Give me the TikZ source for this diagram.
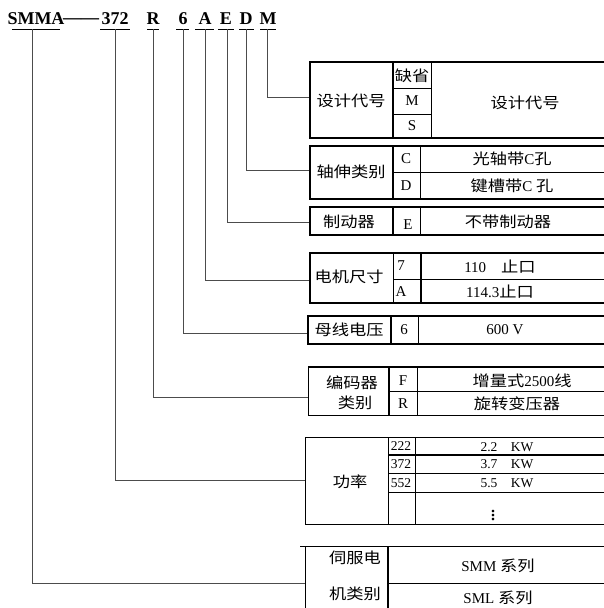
\documentclass[tikz,border=0pt]{standalone}
\usepackage{fontspec}
\setmainfont{Liberation Serif}
\newfontfamily\cjk[FakeStretch=1.15]{Noto Sans CJK SC}

\tikzset{
  frame/.style={line width=1.4pt},
  thinline/.style={line width=0.7pt},
  link/.style={line width=0.8pt, black!70},
  lab/.style={font=\fontsize{15}{15}\selectfont\cjk, inner sep=0pt},
  code/.style={font=\fontsize{15}{15}\selectfont, inner sep=0pt},
  small/.style={font=\fontsize{13.5}{14}\selectfont, inner sep=0pt},
  head/.style={font=\fontsize{18}{18}\selectfont\bfseries, inner sep=0pt}
}

\begin{document}
\begin{tikzpicture}[x=1pt,y=-1pt]
\useasboundingbox (0,0) rectangle (604,608);

\node[head] (hS) at (36,19) {SMMA};
\node[head] (hdash) at (81,21) {——};
\node[head] (h372) at (115,19) {372};
\node[head] (hR) at (153,19) {R};
\node[head] (h6) at (183,19) {6};
\node[head] (hA) at (205,19) {A};
\node[head] (hE) at (226,19) {E};
\node[head] (hD) at (246,19) {D};
\node[head] (hM) at (268,19) {M};

\draw[thinline] (12,29) -- (60,29);
\draw[thinline] (100,29) -- (130,29);
\draw[thinline] (147,29) -- (159,29);
\draw[thinline] (176,29) -- (189,29);
\draw[thinline] (195,29) -- (214,29);
\draw[thinline] (218,29) -- (234,29);
\draw[thinline] (239,29) -- (254,29);
\draw[thinline] (260,29) -- (276,29);

\coordinate (tS) at (32,29);
\coordinate (t372) at (115,29);
\coordinate (tR) at (153,29);
\coordinate (t6) at (183,29);
\coordinate (tA) at (205,29);
\coordinate (tE) at (227,29);
\coordinate (tD) at (246,29);
\coordinate (tM) at (267,29);

\coordinate (b1) at (310,97);
\coordinate (b2) at (310,170);
\coordinate (b3) at (310,222);
\coordinate (b4) at (310,280);
\coordinate (b5) at (308,333);
\coordinate (b6) at (308,397);
\coordinate (b7) at (305,480);
\coordinate (b8) at (305,583);

\draw[link] (tM) |- (b1);
\draw[link] (tD) |- (b2);
\draw[link] (tE) |- (b3);
\draw[link] (tA) |- (b4);
\draw[link] (t6) |- (b5);
\draw[link] (tR) |- (b6);
\draw[link] (t372) |- (b7);
\draw[link] (tS) |- (b8);

\draw[frame] (604,62) -- (310,62) -- (310,138) -- (604,138);
\draw[frame] (393,62) -- (393,138);
\draw[thinline] (431,62) -- (431,138);
\draw[thinline] (393,88) -- (431,88);
\draw[thinline] (393,114) -- (431,114);
\node[lab] (d1) at (351,101) {设计代号};
\node[lab] (d2) at (412,76) {缺省};
\node[code] (d3) at (412,101) {M};
\node[code] (d4) at (412,126) {S};
\node[lab] (d5) at (525,103) {设计代号};

\draw[frame] (604,146) -- (310,146) -- (310,199) -- (604,199);
\draw[frame] (393,146) -- (393,199);
\draw[thinline] (420,146) -- (420,199);
\draw[thinline] (393,172) -- (604,172);
\node[lab] (s1) at (351,172) {轴伸类别};
\node[code] (s2) at (406,159) {C};
\node[code] (s3) at (406,186) {D};
\node[lab] (s4) at (512,159) {光轴带{\rmfamily C}孔};
\node[lab] (s5) at (512,186) {键槽带{\rmfamily C} 孔};

\draw[frame] (604,207) -- (310,207) -- (310,235) -- (604,235);
\draw[frame] (393,207) -- (393,235);
\draw[thinline] (420,207) -- (420,235);
\node[lab] (k1) at (349,222) {制动器};
\node[code] (k2) at (408,225) {E};
\node[lab] (k3) at (508,222) {不带制动器};

\draw[frame] (604,253) -- (310,253) -- (310,303) -- (604,303);
\draw[thinline] (393,253) -- (393,303);
\draw[frame] (421,253) -- (421,303);
\draw[thinline] (393,279) -- (604,279);
\node[lab] (m1) at (349,277) {电机尺寸};
\node[code] (m2) at (401,266) {7};
\node[code] (m3) at (401,292) {A};
\node[code] (m4) at (500,267) {110\quad{\cjk 止口}};
\node[code] (m5) at (500,292) {114.3{\cjk 止口}};

\draw[frame] (604,316) -- (308,316) -- (308,344) -- (604,344);
\draw[frame] (391,316) -- (391,344);
\draw[thinline] (418,316) -- (418,344);
\node[lab] (v1) at (349,330) {母线电压};
\node[code] (v2) at (404,330) {6};
\node[code] (v3) at (505,330) {600 V};

\draw[frame] (604,367) -- (308,367);
\draw[thinline] (308,367) -- (308,415) -- (604,415);
\draw[frame] (389,367) -- (389,415);
\draw[thinline] (417,367) -- (417,415);
\draw[thinline] (389,391) -- (604,391);
\node[lab] (e1) at (352,383) {编码器};
\node[lab] (e2) at (355,403) {类别};
\node[code] (e3) at (403,381) {F};
\node[code] (e4) at (403,404) {R};
\node[lab] (e5) at (522,381) {增量式{\rmfamily 2500}线};
\node[lab] (e6) at (517,404) {旋转变压器};

\draw[thinline] (604,437) -- (305,437) -- (305,524) -- (604,524);
\draw[thinline] (388,437) -- (388,524);
\draw[thinline] (415,437) -- (415,524);
\draw[frame] (388,455) -- (604,455);
\draw[thinline] (388,473) -- (604,473);
\draw[thinline] (388,492) -- (604,492);
\node[lab] (p1) at (350,482) {功率};
\node[small] (p2) at (401,446) {222};
\node[small] (p3) at (401,464) {372};
\node[small] (p4) at (401,483) {552};
\node[small] (p5) at (507,447) {2.2\quad KW};
\node[small] (p6) at (507,464) {3.7\quad KW};
\node[small] (p7) at (507,483) {5.5\quad KW};
\node[small, font=\fontsize{22}{22}\selectfont] (p8) at (493,513) {$\vdots$};

\draw[thinline] (604,546) -- (300,546);
\draw[thinline] (305,546) -- (305,608);
\draw[frame] (388,546) -- (388,608);
\draw[thinline] (388,583) -- (604,583);
\node[lab] (c1) at (355,558) {伺服电};
\node[lab] (c2) at (355,594) {机类别};
\node[code] (c3) at (498,566) {SMM {\cjk 系列}};
\node[code] (c4) at (498,598) {SML {\cjk 系列}};
\end{tikzpicture}
\end{document}
